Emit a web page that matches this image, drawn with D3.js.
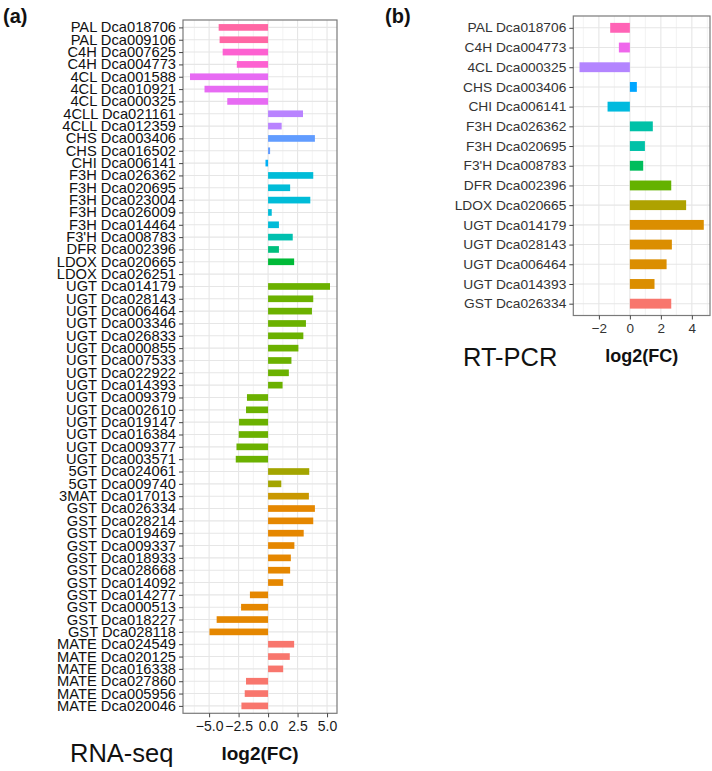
<!DOCTYPE html>
<html>
<head>
<meta charset="utf-8">
<script src="https://cdn.jsdelivr.net/npm/d3@7"></script>
<style>
  html, body { margin: 0; padding: 0; background: #fff; }
  svg { display: block; font-family: "Liberation Sans", Arial, sans-serif; }
</style>
</head>
<body>
<svg id="chart" width="712" height="771"></svg>
<script>
// ---------- Panel (a) RNA-seq data (top to bottom) ----------
const genesA = [
  "PAL Dca018706","PAL Dca009106","C4H Dca007625","C4H Dca004773",
  "4CL Dca001588","4CL Dca010921","4CL Dca000325",
  "4CLL Dca021161","4CLL Dca012359","CHS Dca003406","CHS Dca016502",
  "CHI Dca006141",
  "F3H Dca026362","F3H Dca020695","F3H Dca023004","F3H Dca026009","F3H Dca014464",
  "F3'H Dca008783","DFR Dca002396","LDOX Dca020665","LDOX Dca026251",
  "UGT Dca014179","UGT Dca028143","UGT Dca006464","UGT Dca003346","UGT Dca026833",
  "UGT Dca000855","UGT Dca007533","UGT Dca022922","UGT Dca014393","UGT Dca009379",
  "UGT Dca002610","UGT Dca019147","UGT Dca016384","UGT Dca009377","UGT Dca003571",
  "5GT Dca024061","5GT Dca009740","3MAT Dca017013",
  "GST Dca026334","GST Dca028214","GST Dca019469","GST Dca009337","GST Dca018933",
  "GST Dca028668","GST Dca014092","GST Dca014277","GST Dca000513","GST Dca018227",
  "GST Dca028118",
  "MATE Dca024549","MATE Dca020125","MATE Dca016338","MATE Dca027860","MATE Dca005956",
  "MATE Dca020046"
];
const valuesA = [
  -4.19, -4.11, -3.85, -2.65,
  -6.62, -5.39, -3.46,
  2.96, 1.15, 3.97, 0.17,
  -0.22,
  3.83, 1.87, 3.58, 0.31, 0.92,
  2.09, 0.92, 2.21, 0.0,
  5.25, 3.83, 3.72, 3.21, 2.99,
  2.57, 1.98, 1.76, 1.23, -1.79,
  -1.87, -2.46, -2.49, -2.68, -2.74,
  3.49, 1.12, 3.46,
  3.97, 3.83, 3.02, 2.23, 1.93,
  1.87, 1.28, -1.54, -2.29, -4.36,
  -4.97,
  2.21, 1.84, 1.28, -1.87, -1.98,
  -2.26
];
// family levels (factor order, first = bottom)
const familiesA = ["MATE","GST","3MAT","5GT","UGT","LDOX","DFR","F3'H","F3H","CHI","CHS","4CLL","4CL","C4H","PAL"];
const paletteA = ["#F8766D","#E58700","#C99800","#A3A500","#6BB100","#00BA38","#00BF7D","#00C0AF","#00BCD8","#00B0F6","#619CFF","#B983FF","#E76BF3","#FD61D1","#FF67A4"];
const ticksA = [-5, -2.5, 0, 2.5, 5];

// ---------- Panel (b) RT-PCR data (top to bottom) ----------
const genesB = [
  "PAL Dca018706","C4H Dca004773","4CL Dca000325","CHS Dca003406","CHI Dca006141",
  "F3H Dca026362","F3H Dca020695","F3'H Dca008783","DFR Dca002396","LDOX Dca020665",
  "UGT Dca014179","UGT Dca028143","UGT Dca006464","UGT Dca014393","GST Dca026334"
];
const valuesB = [-1.27, -0.71, -3.25, 0.45, -1.44, 1.48, 0.97, 0.86, 2.67, 3.63, 4.77, 2.71, 2.37, 1.59, 2.67];
const familiesB = ["GST","UGT","LDOX","DFR","F3'H","F3H","CHI","CHS","4CL","C4H","PAL"];
const paletteB = ["#F8766D","#DB8E00","#AEA200","#64B200","#00BD5C","#00C1A7","#00BADE","#00A6FF","#B385FF","#EF67EB","#FF63B6"];
const ticksB = [-2, 0, 2, 4];

const svg = d3.select("#chart");
const fam = g => g.split(" ")[0];

function panel(opts) {
  const {genes, values, families, palette, ticks, left, right, top, bottom,
         barFrac, labelSize, labelScale, labelColor, tickSize, tickColor, fmt} = opts;
  const ext = d3.extent(values.concat([0]));
  const span = ext[1] - ext[0];
  const x = d3.scaleLinear().domain([ext[0] - span * 0.05, ext[1] + span * 0.05]).range([left, right]);
  const y = d3.scalePoint().domain(genes).range([top, bottom]).padding(0.6);
  const color = d3.scaleOrdinal(families, palette);
  const g = svg.append("g");

  // minor grid
  const [d0, d1] = x.domain();
  const minor = [];
  const step = ticks[1] - ticks[0];
  for (let v = ticks[0] - step / 2; v <= d1; v += step) if (v >= d0) minor.push(v);
  g.append("g").selectAll("line").data(minor).join("line")
    .attr("x1", d => x(d)).attr("x2", d => x(d)).attr("y1", top).attr("y2", bottom)
    .attr("stroke", "#EBEBEB").attr("stroke-width", 0.6);
  // major grid
  g.append("g").selectAll("line").data(ticks).join("line")
    .attr("x1", d => x(d)).attr("x2", d => x(d)).attr("y1", top).attr("y2", bottom)
    .attr("stroke", "#E6E6E6").attr("stroke-width", 1.1);
  g.append("g").selectAll("line").data(genes).join("line")
    .attr("x1", left).attr("x2", right).attr("y1", d => y(d)).attr("y2", d => y(d))
    .attr("stroke", "#E6E6E6").attr("stroke-width", 1.1);

  // bars
  const bh = y.step() * barFrac;
  g.append("g").selectAll("rect").data(genes.map((d, i) => ({gene: d, v: values[i]}))).join("rect")
    .attr("x", d => x(Math.min(0, d.v)))
    .attr("width", d => Math.abs(x(d.v) - x(0)))
    .attr("y", d => y(d.gene) - bh / 2)
    .attr("height", bh)
    .attr("fill", d => color(fam(d.gene)));

  // border
  g.append("rect").attr("x", left).attr("y", top).attr("width", right - left).attr("height", bottom - top)
    .attr("fill", "none").attr("stroke", "#7a7a7a").attr("stroke-width", 1.2);

  // y axis
  const ya = g.append("g").attr("transform", `translate(${left},0)`)
    .call(d3.axisLeft(y).tickSize(4).tickPadding(3));
  ya.select(".domain").remove();
  ya.selectAll(".tick line").attr("stroke", "#444");
  ya.selectAll(".tick text")
    .attr("font-size", labelSize)
    .attr("font-family", "'Liberation Sans', Arial, sans-serif")
    .attr("fill", labelColor)
    .attr("x", -7 / labelScale)
    .attr("transform", `scale(${labelScale},1)`);

  // x axis
  const xa = g.append("g").attr("transform", `translate(0,${bottom})`)
    .call(d3.axisBottom(x).tickValues(ticks).tickFormat(fmt).tickSize(4).tickPadding(3.5));
  xa.select(".domain").remove();
  xa.selectAll(".tick line").attr("stroke", "#444");
  xa.selectAll(".tick text")
    .attr("font-size", tickSize)
    .attr("font-family", "'Liberation Sans', Arial, sans-serif")
    .attr("fill", tickColor);
  return x;
}

panel({
  genes: genesA, values: valuesA, families: familiesA, palette: paletteA, ticks: ticksA,
  left: 183, right: 337, top: 20, bottom: 713.3, barFrac: 0.54,
  labelSize: 14, labelScale: 1.05, labelColor: "#111", tickSize: 14, tickColor: "#1a1a1a",
  fmt: d3.format(".1f")
});

panel({
  genes: genesB, values: valuesB, families: familiesB, palette: paletteB, ticks: ticksB,
  left: 573.3, right: 710, top: 16, bottom: 315.5, barFrac: 0.5,
  labelSize: 13, labelScale: 1.06, labelColor: "#333", tickSize: 13.5, tickColor: "#333",
  fmt: d3.format("d")
});

// titles and labels
const txt = (x, y, s, size, weight, anchor, fill) => svg.append("text")
  .attr("x", x).attr("y", y).text(s).attr("font-size", size).attr("font-weight", weight)
  .attr("text-anchor", anchor).attr("fill", fill);

txt(3, 23, "(a)", 20, "bold", "start", "#111");
txt(385, 23, "(b)", 20, "bold", "start", "#111");
txt(70, 762, "RNA-seq", 25.5, "normal", "start", "#111");
txt(260, 760, "log2(FC)", 19, "bold", "middle", "#111");
txt(463, 366, "RT-PCR", 25.5, "normal", "start", "#111");
txt(641.7, 362, "log2(FC)", 18, "bold", "middle", "#111");
</script>
</body>
</html>
